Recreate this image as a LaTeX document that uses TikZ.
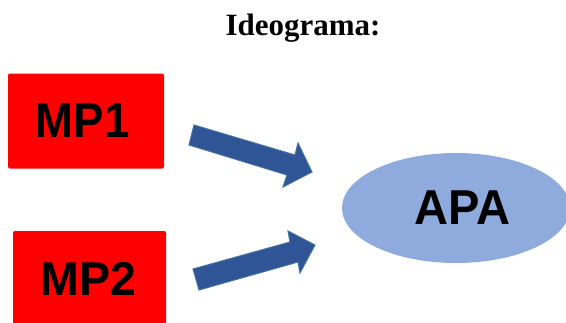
\documentclass[tikz,border=0pt]{standalone}
\usepackage{fontspec}
\setmainfont{Liberation Serif}
\newfontfamily\labelfont{Liberation Sans}
\usetikzlibrary{shapes.geometric}
\definecolor{boxred}{RGB}{255,0,0}
\definecolor{arrowblue}{RGB}{47,85,151}
\definecolor{arrowedge}{RGB}{65,113,156}
\definecolor{ellblue}{RGB}{143,170,220}
% bold sans label: #1 font size, #2 horizontal scale, #3 text
\newcommand{\widelabel}[3]{\scalebox{#2}[1]{\labelfont\bfseries\fontsize{#1}{#1}\selectfont #3}}
\tikzset{
  mpbox/.style={fill=boxred, rounded corners=2pt, inner sep=0pt},
  bigtext/.style={text=black, inner sep=0pt, anchor=base},
  blockarrow/.style={fill=arrowblue, draw=arrowedge, line width=1pt, line join=miter},
  title/.style={font=\bfseries\fontsize{31}{31}\selectfont, inner sep=0pt, anchor=base}
}
\begin{document}
\begin{tikzpicture}[x=1pt,y=-1pt]
  \useasboundingbox (0,0) rectangle (566,322);
  \clip (0,0) rectangle (566,322);
  \fill[white] (0,0) rectangle (566,322);

  % title
  \node[title] (title) at (303,35) {Ideograma:};

  % source boxes
  \node[mpbox, minimum width=156pt, minimum height=95pt] (mp1) at (86,121) {};
  \node[bigtext] (mp1t) at (82.5,137) {\widelabel{49}{0.93}{MP1}};
  \node[mpbox, minimum width=153pt, minimum height=110pt] (mp2) at (89.5,286) {};
  \node[bigtext] (mp2t) at (88.5,295) {\widelabel{47.5}{0.98}{MP2}};

  % target ellipse
  \node[ellipse, fill=ellblue, minimum width=228pt, minimum height=110pt, inner sep=0pt] (apa) at (456,208) {};
  \node[bigtext] (apat) at (462.5,224) {\widelabel{49}{0.96}{APA}};

  % block arrows
  \draw[blockarrow] (194,125) -- (295,155) -- (298,143) -- (312,172)
    -- (283,187) -- (287,175) -- (189,145) -- cycle;
  \draw[blockarrow] (193,269) -- (290,242) -- (288,231) -- (315,245)
    -- (300,273) -- (298,262) -- (199,290) -- cycle;
\end{tikzpicture}
\end{document}
